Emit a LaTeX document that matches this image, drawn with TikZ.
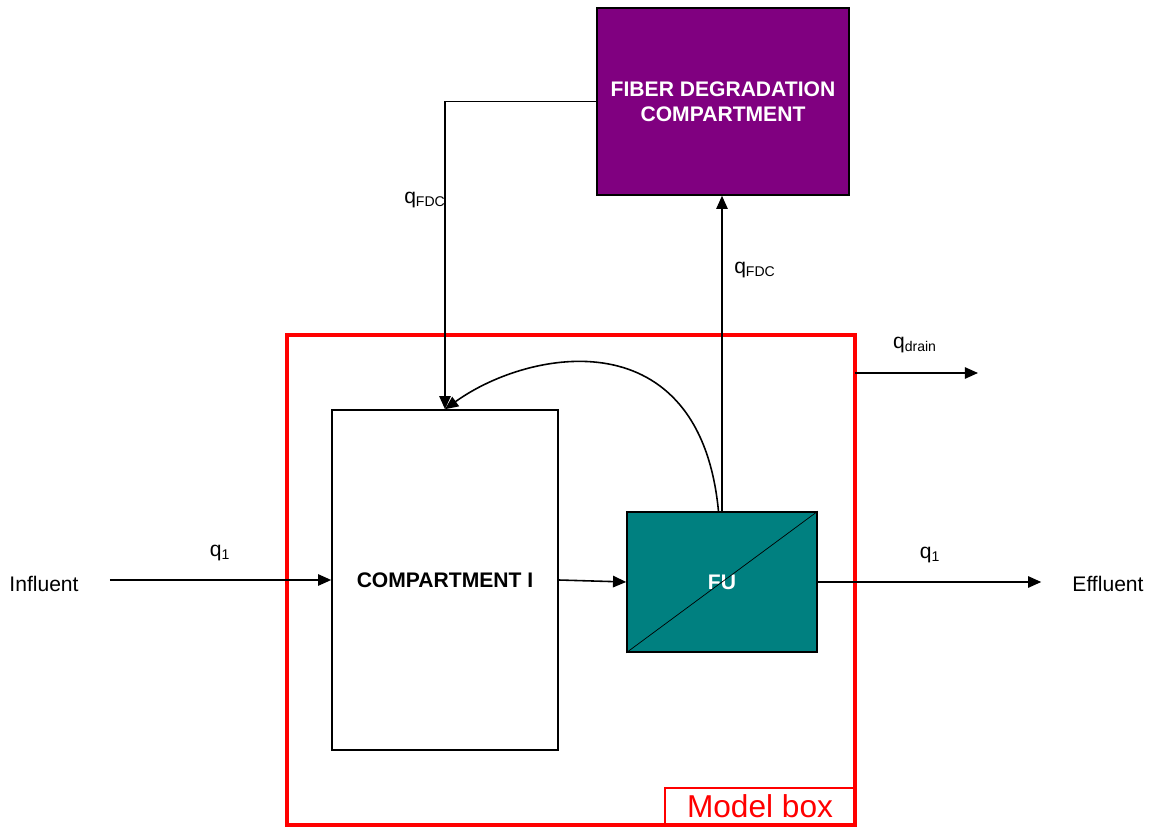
\documentclass[tikz,border=0pt]{standalone}
\usepackage{fontspec}
\setmainfont{Liberation Sans}
\usetikzlibrary{arrows.meta}

\definecolor{fdcpurple}{HTML}{800080}
\definecolor{futeal}{HTML}{008080}

\begin{document}
\begin{tikzpicture}[
    flow/.style={draw, line width=0.9pt, -{Triangle[length=7.5pt,width=6.5pt]}},
    lbl/.style={font=\fontsize{12}{14}\selectfont, inner sep=1pt},
  ]
      \useasboundingbox (0,0) rectangle (23,16.56);

      \begin{scope}[every node/.style={draw, line width=0.9pt, font=\fontsize{12}{14}\selectfont\bfseries, align=center}]
        \node[fill=fdcpurple, text=white, minimum width=5.04cm, minimum height=3.74cm] (fdc) at (14.46,14.53) {FIBER DEGRADATION\\COMPARTMENT};
        \node[minimum width=4.52cm, minimum height=6.8cm] (comp) at (8.9,4.96) {COMPARTMENT I};
        \node[fill=futeal, text=white, minimum width=3.8cm, minimum height=2.8cm] (fu) at (14.44,4.92) {FU};
      \end{scope}

      \draw[line width=2.3pt, red] (5.74,0.06) rectangle (17.1,9.86);
      \coordinate (modelright) at (17.1,9.1);
      \draw[red, line width=0.6pt] (13.3,0.06) rectangle (17.1,0.8);
      \node[red, font=\fontsize{18}{20}\selectfont] (modellabel) at (15.2,0.43) {Model box};

      \node[font=\fontsize{12}{14}\selectfont] (influent) at (0.88,4.88) {Influent};
      \node[font=\fontsize{12}{14}\selectfont] (effluent) at (22.16,4.88) {Effluent};
      \coordinate (drainend) at (19.56,9.1);

      \draw (fu.south west) -- (fu.north east);

      \path[flow, shorten <=0.5cm] (influent.east |- comp.west) -- (comp.west);
      \path[flow] (comp.east) -- (fu.west);
      \path[flow, shorten >=0.5cm] (fu.east) -- (fu.east -| effluent.west);
      \path[flow] (fdc.west) -| (comp.north);
      \path[flow] (fu.north) -- (fu.north |- fdc.south);
      \path[flow] ([xshift=-2pt]fu.north) .. controls (14.0,10.2) and (10.6,9.6) .. (comp.north);
      \path[flow] (modelright) -- (drainend);

      \node[lbl] (q1in) at (4.4,5.5) {q\textsubscript{1}};
      \node[lbl] (q1out) at (18.6,5.46) {q\textsubscript{1}};
      \node[lbl] (qfdcdown) at (8.5,12.56) {q\textsubscript{FDC}};
      \node[lbl] (qfdcup) at (15.1,11.16) {q\textsubscript{FDC}};
      \node[lbl] (qdrain) at (18.3,9.66) {q\textsubscript{drain}};

    \end{tikzpicture}
\end{document}
